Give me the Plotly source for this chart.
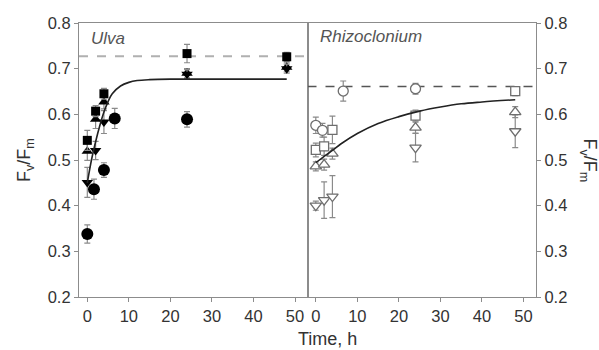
import plotly.graph_objects as go

# ---------------- data ----------------
# Ulva (left panel, filled symbols)
ulva_sq_t = [0, 2, 4, 24, 48]
ulva_sq_v = [0.543, 0.607, 0.645, 0.733, 0.726]
ulva_sq_e = [0.022, 0.012, 0.012, 0.020, 0.010]

ulva_up_t = [0, 2, 4, 24, 48]
ulva_up_v = [0.519, 0.589, 0.627, 0.690, 0.703]
ulva_up_e = [0.020, 0.020, 0.015, 0.010, 0.010]

ulva_dn_t = [0, 2, 4, 24, 48]
ulva_dn_v = [0.451, 0.521, 0.583, 0.688, 0.700]
ulva_dn_e = [0.033, 0.020, 0.025, 0.010, 0.010]

ulva_ci_t = [0, 1.6, 4, 6.6, 24]
ulva_ci_v = [0.338, 0.436, 0.478, 0.591, 0.589]
ulva_ci_e = [0.020, 0.022, 0.016, 0.022, 0.017]

ulva_fit_t = [0, 1, 2, 3, 4, 5, 6, 8, 10, 12, 15, 20, 30, 48]
ulva_fit_v = [0.450, 0.500, 0.540, 0.575, 0.605, 0.628, 0.645, 0.662, 0.670, 0.674, 0.676, 0.677, 0.677, 0.677]
ulva_ref = 0.727

# Rhizoclonium (right panel, open symbols)
rhz_ci_t = [0, 1.6, 6.6, 24]
rhz_ci_v = [0.576, 0.565, 0.651, 0.656]
rhz_ci_e = [0.018, 0.015, 0.022, 0.012]

rhz_sq_t = [0, 2, 4, 24, 48]
rhz_sq_v = [0.522, 0.530, 0.566, 0.597, 0.651]
rhz_sq_e = [0.015, 0.020, 0.030, 0.012, 0.010]

rhz_up_t = [0, 2, 4, 24, 48]
rhz_up_v = [0.486, 0.490, 0.514, 0.571, 0.605]
rhz_up_e = [0.010, 0.012, 0.012, 0.012, 0.012]

rhz_dn_t = [0, 2, 4, 24, 48]
rhz_dn_v = [0.400, 0.412, 0.420, 0.527, 0.563]
rhz_dn_e = [0.010, 0.040, 0.046, 0.031, 0.036]

rhz_fit_t = [0, 2, 4, 6, 10, 15, 20, 25, 30, 35, 40, 48]
rhz_fit_v = [0.494, 0.508, 0.521, 0.535, 0.558, 0.580, 0.595, 0.607, 0.616, 0.623, 0.627, 0.632]
rhz_ref = 0.661

x_ticks = [0, 10, 20, 30, 40, 50]
y_ticks = [0.2, 0.3, 0.4, 0.5, 0.6, 0.7, 0.8]

# ---------------- figure ----------------
fig = go.Figure()
ERR = "#8a8a8a"
OPEN = "#6e6e6e"
FONT = "Liberation Sans, Arial, sans-serif"
TXT = "#333333"


def add_pts(t, v, e, symbol, color, size, xa, ya, open_=False):
    fig.add_trace(go.Scatter(
        x=t, y=v, mode="markers", xaxis=xa, yaxis=ya,
        marker=dict(symbol=symbol, size=size,
                    color="white" if open_ else color,
                    line=dict(color=color, width=1.3 if open_ else 0)),
        error_y=dict(type="data", array=e, color=ERR, thickness=1.2, width=3),
        showlegend=False, cliponaxis=False))


# left panel
fig.add_trace(go.Scatter(x=[-2, 53], y=[ulva_ref, ulva_ref], mode="lines",
                         line=dict(color="#b0b0b0", width=2, dash="dash"),
                         xaxis="x", yaxis="y", showlegend=False))
add_pts(ulva_ci_t, ulva_ci_v, ulva_ci_e, "circle", "black", 12, "x", "y")
add_pts(ulva_up_t, ulva_up_v, ulva_up_e, "triangle-up", "black", 10, "x", "y")
add_pts(ulva_dn_t, ulva_dn_v, ulva_dn_e, "triangle-down", "black", 10, "x", "y")
add_pts(ulva_sq_t, ulva_sq_v, ulva_sq_e, "square", "black", 9, "x", "y")
fig.add_trace(go.Scatter(x=ulva_fit_t, y=ulva_fit_v, mode="lines",
                         line=dict(color="#222222", width=1.6, shape="spline"),
                         xaxis="x", yaxis="y", showlegend=False))

# right panel
fig.add_trace(go.Scatter(x=[-2, 53], y=[rhz_ref, rhz_ref], mode="lines",
                         line=dict(color="#555555", width=1.5, dash="dash"),
                         xaxis="x2", yaxis="y2", showlegend=False))
add_pts(rhz_dn_t, rhz_dn_v, rhz_dn_e, "triangle-down", OPEN, 10, "x2", "y2", True)
add_pts(rhz_up_t, rhz_up_v, rhz_up_e, "triangle-up", OPEN, 10, "x2", "y2", True)
add_pts(rhz_sq_t, rhz_sq_v, rhz_sq_e, "square", OPEN, 9, "x2", "y2", True)
add_pts(rhz_ci_t, rhz_ci_v, rhz_ci_e, "circle", OPEN, 10, "x2", "y2", True)
fig.add_trace(go.Scatter(x=rhz_fit_t, y=rhz_fit_v, mode="lines",
                         line=dict(color="#222222", width=1.6, shape="spline"),
                         xaxis="x2", yaxis="y2", showlegend=False))

AX = "#8c8c8c"
TICKF = dict(family=FONT, size=16.5, color=TXT)
common_x = dict(range=[-2, 53], tickvals=x_ticks, showgrid=False, zeroline=False,
                showline=True, linecolor=AX, linewidth=1.2, mirror=True,
                ticks="outside", ticklen=4, tickcolor=AX, tickfont=TICKF)
common_y = dict(range=[0.2, 0.8], tickvals=y_ticks, tickformat=".1f", showgrid=False,
                zeroline=False, showline=True, linecolor=AX, linewidth=1.2, mirror=True,
                ticks="outside", ticklen=4, tickcolor=AX, tickfont=TICKF)

fig.update_layout(
    width=599, height=350,
    margin=dict(l=79, r=63, t=23, b=53),
    paper_bgcolor="white", plot_bgcolor="white",
    xaxis=dict(domain=[0, 0.5], anchor="y", **common_x),
    yaxis=dict(domain=[0, 1], anchor="x", side="left", **common_y),
    xaxis2=dict(domain=[0.5, 1], anchor="y2", **common_x),
    yaxis2=dict(domain=[0, 1], anchor="x2", side="right", **common_y),
    font=dict(family=FONT),
    annotations=[
        dict(text="F<sub>v</sub>/F<sub>m</sub>", xref="paper", yref="paper",
             x=-0.118, y=0.5, textangle=-90, showarrow=False,
             font=dict(size=18, color=TXT), xanchor="center", yanchor="middle"),
        dict(text="F<sub>v</sub>/F<sub>m</sub>", xref="paper", yref="paper",
             x=1.115, y=0.5, textangle=90, showarrow=False,
             font=dict(size=18, color=TXT), xanchor="center", yanchor="middle"),
        dict(text="Time, h", xref="paper", yref="paper", x=0.543, y=-0.153,
             showarrow=False, font=dict(size=18, color=TXT),
             xanchor="center", yanchor="middle"),
        dict(text="<i>Ulva</i>", xref="paper", yref="paper", x=0.022, y=0.942,
             showarrow=False, font=dict(size=17, color="#555555"),
             xanchor="left", yanchor="middle"),
        dict(text="<i>Rhizoclonium</i>", xref="paper", yref="paper", x=0.523, y=0.949,
             showarrow=False, font=dict(size=17, color="#555555"),
             xanchor="left", yanchor="middle"),
    ],
)

fig.write_html("out.html")
